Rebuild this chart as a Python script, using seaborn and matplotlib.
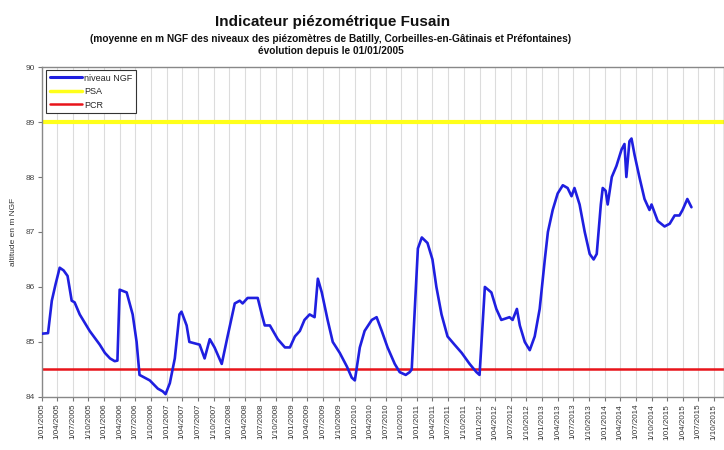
import matplotlib
matplotlib.use("Agg")
import matplotlib.pyplot as plt
from matplotlib.lines import Line2D
import seaborn as sns
import pandas as pd

# ---- data ----
dates = [
    "2005-01-03", "2005-02-07", "2005-03-01", "2005-03-23", "2005-04-16", "2005-05-09",
    "2005-06-01", "2005-06-25", "2005-07-12", "2005-08-11", "2005-10-08", "2005-12-06",
    "2006-01-05", "2006-02-04", "2006-03-03", "2006-03-19", "2006-04-01", "2006-05-12",
    "2006-06-16", "2006-07-09", "2006-07-26", "2006-09-24", "2006-11-10", "2006-12-09",
    "2006-12-25", "2007-01-19", "2007-02-17", "2007-03-16", "2007-03-28", "2007-04-27",
    "2007-05-13", "2007-07-12", "2007-08-10", "2007-09-09", "2007-10-07", "2007-11-18",
    "2007-12-22", "2008-02-02", "2008-03-02", "2008-03-19", "2008-04-17", "2008-06-15",
    "2008-07-09", "2008-07-26", "2008-08-25", "2008-10-10", "2008-11-21", "2008-12-20",
    "2009-01-18", "2009-02-16", "2009-03-15", "2009-04-14", "2009-05-13", "2009-06-01",
    "2009-06-24", "2009-07-28", "2009-08-27", "2009-10-07", "2009-11-18", "2009-12-16",
    "2010-01-03", "2010-02-01", "2010-03-01", "2010-04-12", "2010-05-10", "2010-06-09",
    "2010-07-13", "2010-08-24", "2010-09-22", "2010-10-27", "2010-11-19", "2010-12-01",
    "2011-01-06", "2011-01-29", "2011-03-03", "2011-04-01", "2011-04-24", "2011-05-24",
    "2011-06-28", "2011-08-08", "2011-09-19", "2011-11-04", "2011-12-14", "2012-01-01",
    "2012-02-01", "2012-03-10", "2012-04-08", "2012-05-07", "2012-06-24", "2012-07-12",
    "2012-08-06", "2012-08-23", "2012-09-21", "2012-10-20", "2012-11-18", "2012-12-17",
    "2013-01-16", "2013-02-03", "2013-03-03", "2013-04-01", "2013-05-01", "2013-05-29",
    "2013-06-21", "2013-07-08", "2013-08-07", "2013-09-06", "2013-10-05", "2013-10-28",
    "2013-11-15", "2013-12-09", "2013-12-20", "2014-01-06", "2014-01-18", "2014-02-11",
    "2014-03-10", "2014-04-09", "2014-04-26", "2014-05-07", "2014-05-25", "2014-06-06",
    "2014-06-24", "2014-07-22", "2014-08-21", "2014-09-19", "2014-10-01", "2014-11-06",
    "2014-12-16", "2015-01-15", "2015-02-13", "2015-03-13", "2015-03-31", "2015-04-28",
    "2015-05-22",
]
niveau_ngf = [
    85.15, 85.16, 85.75, 86.05, 86.35, 86.30,
    86.20, 85.75, 85.72, 85.50, 85.20, 84.95,
    84.80, 84.70, 84.65, 84.66, 85.95, 85.90,
    85.50, 85.00, 84.40, 84.30, 84.15, 84.10,
    84.05, 84.25, 84.70, 85.50, 85.55, 85.30,
    85.00, 84.95, 84.70, 85.05, 84.90, 84.60,
    85.10, 85.70, 85.75, 85.70, 85.80, 85.80,
    85.50, 85.30, 85.30, 85.05, 84.90, 84.90,
    85.10, 85.20, 85.40, 85.50, 85.45, 86.15,
    85.90, 85.40, 85.00, 84.80, 84.55, 84.35,
    84.30, 84.90, 85.20, 85.40, 85.45, 85.20,
    84.90, 84.60, 84.45, 84.40, 84.45, 84.50,
    86.70, 86.90, 86.80, 86.50, 86.00, 85.50,
    85.10, 84.95, 84.80, 84.60, 84.45, 84.40,
    86.00, 85.90, 85.60, 85.40, 85.45, 85.40,
    85.60, 85.30, 85.00, 84.85, 85.10, 85.60,
    86.50, 87.00, 87.40, 87.70, 87.85, 87.80,
    87.65, 87.80, 87.50, 87.00, 86.60, 86.50,
    86.60, 87.50, 87.80, 87.75, 87.50, 88.00,
    88.20, 88.50, 88.60, 88.00, 88.65, 88.70,
    88.40, 88.00, 87.60, 87.40, 87.50, 87.20,
    87.10, 87.15, 87.30, 87.30, 87.40, 87.60,
    87.45,
]
psa_level = 89.0
pcr_level = 84.5
series_names = ["niveau NGF", "PSA", "PCR"]
tick_start, tick_end = "2005-01-01", "2015-10-01"
y_ticks = [84, 85, 86, 87, 88, 89, 90]

title = "Indicateur piézométrique Fusain"
subtitle1 = "(moyenne en m NGF des niveaux des piézomètres de Batilly, Corbeilles-en-Gâtinais et Préfontaines)"
subtitle2 = "évolution depuis le 01/01/2005"
ylabel = "altitude en m NGF"

df = pd.DataFrame({"date": pd.to_datetime(dates), "niveau": niveau_ngf})

# ---- figure ----
sns.set_style("white")
plt.rcParams["font.family"] = ["Liberation Sans", "DejaVu Sans"]

fig = plt.figure(figsize=(7.24, 4.50), dpi=100)
ax = fig.add_axes([0.0576, 0.118, 0.9424, 0.733])

blue, yellow, red = "#1f1fe0", "#ffff1a", "#e8141a"

sns.lineplot(data=df, x="date", y="niveau", ax=ax, color=blue, linewidth=1.9, zorder=3)
ax.axhline(psa_level, color=yellow, linewidth=3.0, zorder=2)
ax.axhline(pcr_level, color=red, linewidth=1.8, zorder=2)

ticks = pd.date_range(tick_start, tick_end, freq="QS")
ax.set_xticks(ticks)
ax.set_xticklabels([f"{t.day}/{t.month:02d}/{t.year}" for t in ticks],
                   rotation=90, fontsize=5.8, color="#333333")
ax.set_xlim(pd.Timestamp(tick_start), pd.Timestamp(tick_end) + pd.Timedelta(days=58))
ax.set_ylim(84, 90)
ax.set_yticks(y_ticks)
ax.set_yticklabels([str(v) for v in y_ticks], fontsize=6, color="#444444")
ax.tick_params(axis="both", length=3, width=0.8, color="#777777", pad=2, direction="out")
ax.tick_params(axis="x", bottom=True)
ax.tick_params(axis="y", left=True)

ax.grid(axis="x", color="#dcdcdc", linewidth=0.8)
ax.grid(axis="y", visible=False)
ax.set_axisbelow(True)
for side in ["left", "bottom", "top", "right"]:
    ax.spines[side].set_color("#888888")
    ax.spines[side].set_linewidth(1.0)

ax.set_xlabel("")
ax.set_ylabel(ylabel, fontsize=6, color="#333333", labelpad=6)

handles = [Line2D([0], [0], color=blue, lw=2.2),
           Line2D([0], [0], color=yellow, lw=2.5),
           Line2D([0], [0], color=red, lw=1.8)]
leg = ax.legend(handles, series_names, loc="upper left", bbox_to_anchor=(0.003, 0.998),
                fontsize=6.5, frameon=True, fancybox=False, framealpha=1,
                edgecolor="#333333", handlelength=3.6, handletextpad=0.25,
                borderpad=0.35, labelspacing=0.5, borderaxespad=0.3)
leg.get_frame().set_linewidth(0.8)

fig.text(0.46, 0.952, title, ha="center", va="center", fontsize=11, fontweight="bold", color="#111111")
fig.text(0.457, 0.914, subtitle1, ha="center", va="center", fontsize=7.3, fontweight="bold", color="#111111")
fig.text(0.457, 0.887, subtitle2, ha="center", va="center", fontsize=7.3, fontweight="bold", color="#111111")

fig.savefig("out.png", dpi=100)
